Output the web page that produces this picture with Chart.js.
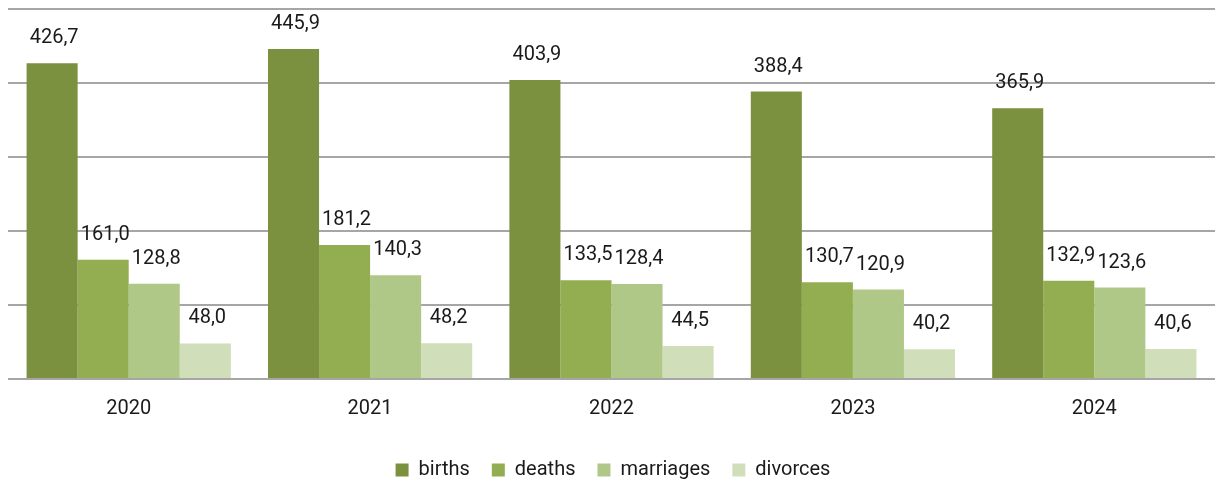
<!DOCTYPE html>
<html>
<head>
<meta charset="utf-8">
<script src="https://cdn.jsdelivr.net/npm/chart.js@4"></script>
<style>
  html, body { margin: 0; padding: 0; background: #fff; }
  #wrap { width: 1215px; height: 484px; }
</style>
</head>
<body>
<div id="wrap"><canvas id="chart"></canvas></div>
<script>
const years     = ["2020", "2021", "2022", "2023", "2024"];
const births    = [426.7, 445.9, 403.9, 388.4, 365.9];
const deaths    = [161.0, 181.2, 133.5, 130.7, 132.9];
const marriages = [128.8, 140.3, 128.4, 120.9, 123.6];
const divorces  = [48.0, 48.2, 44.5, 40.2, 40.6];

const FONT = "Roboto, 'Noto Sans', sans-serif";

// value labels above each bar, decimal comma
const valueLabels = {
    id: "valueLabels",
    afterDatasetsDraw(chart) {
        const ctx = chart.ctx;
        ctx.save();
        ctx.font = `20px ${FONT}`;
        ctx.fillStyle = "#1a1a1a";
        ctx.textAlign = "center";
        ctx.textBaseline = "bottom";
        chart.data.datasets.forEach((ds, i) => {
            chart.getDatasetMeta(i).data.forEach((bar, j) => {
                const txt = ds.data[j].toFixed(1).replace(".", ",");
                ctx.fillText(txt, bar.x + 2, bar.y - 15);
            });
        });
        ctx.restore();
    }
};

new Chart(document.getElementById("chart"), {
    type: "bar",
    data: {
        labels: years,
        datasets: [
            { label: "births",    data: births,    backgroundColor: "#7b913f" },
            { label: "deaths",    data: deaths,    backgroundColor: "#92ae50" },
            { label: "marriages", data: marriages, backgroundColor: "#afc888" },
            { label: "divorces",  data: divorces,  backgroundColor: "#d0deb9" },
        ]
    },
    options: {
        responsive: true,
        maintainAspectRatio: false,
        animation: false,
        layout: { padding: { left: 8, right: -3, top: 9, bottom: -6 } },
        datasets: { bar: { categoryPercentage: 0.846, barPercentage: 1.0 } },
        plugins: {
            legend: {
                position: "bottom",
                labels: {
                    boxWidth: 13,
                    boxHeight: 13,
                    padding: 22,
                    color: "#1a1a1a",
                    font: { family: FONT, size: 20 }
                }
            },
            tooltip: { enabled: false }
        },
        scales: {
            x: {
                grid: { display: false },
                border: { display: false },
                ticks: { color: "#1a1a1a", padding: 10, font: { family: FONT, size: 20 } },
                afterFit(scale) { scale.height += 7; }
            },
            y: {
                min: 0,
                max: 500,
                ticks: { display: false, stepSize: 100 },
                grid: { color: "#a6a6a6", lineWidth: 2, drawTicks: false },
                border: { display: false }
            }
        }
    },
    plugins: [valueLabels]
});
</script>
</body>
</html>
